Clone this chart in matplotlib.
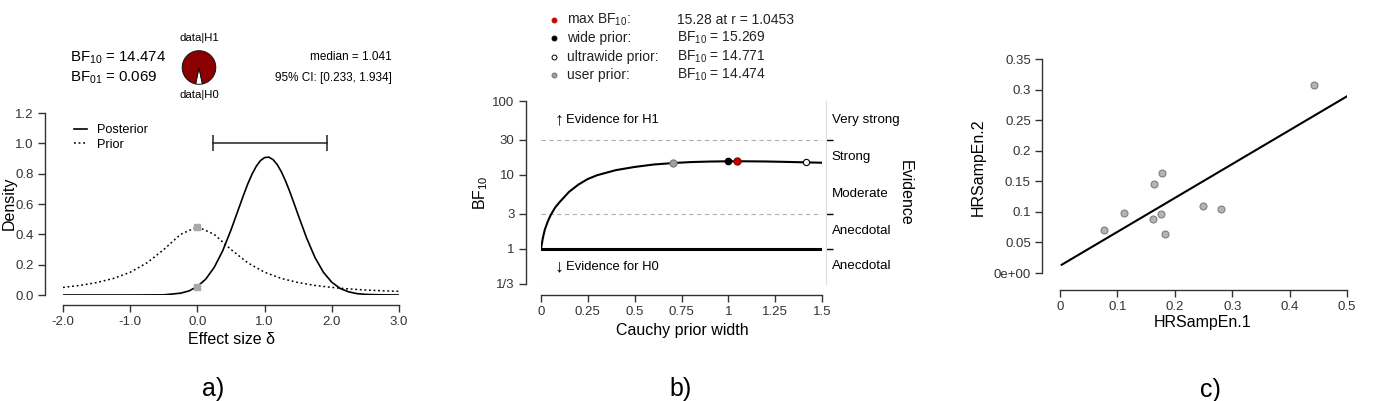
import matplotlib.pyplot as plt
import numpy as np
from matplotlib.lines import Line2D

plt.rcParams['font.family'] = ['Liberation Sans', 'DejaVu Sans']
plt.rcParams['mathtext.fontset'] = 'custom'
plt.rcParams['mathtext.rm'] = 'Liberation Sans'
plt.rcParams['mathtext.it'] = 'Liberation Sans:italic'

# --- a) prior / posterior ---
prior_x = [-2.0, -1.75, -1.5, -1.25, -1.0, -0.75, -0.5, -0.25, 0.0, 0.25, 0.5,
           0.75, 1.0, 1.25, 1.5, 1.75, 2.0, 2.25, 2.5, 2.75, 3.0]
prior_y = [0.050, 0.063, 0.082, 0.109, 0.150, 0.212, 0.300, 0.400, 0.450, 0.400, 0.300,
           0.212, 0.150, 0.109, 0.082, 0.063, 0.050, 0.040, 0.033, 0.028, 0.024]
post_x = [-2.0, -1.0, -0.5, -0.25, -0.125, 0.0, 0.125, 0.25, 0.375, 0.5, 0.625, 0.6875,
          0.75, 0.8125, 0.875, 0.9375, 1.0, 1.0625, 1.125, 1.1875, 1.25, 1.3125, 1.375,
          1.4375, 1.5, 1.625, 1.75, 1.875, 2.0, 2.125, 2.25, 2.375, 2.5, 2.75, 3.0]
post_y = [0.0, 0.0, 0.001, 0.012, 0.027, 0.056, 0.105, 0.182, 0.290, 0.429, 0.583, 0.660,
          0.733, 0.796, 0.848, 0.886, 0.906, 0.909, 0.893, 0.860, 0.812, 0.751, 0.681,
          0.605, 0.527, 0.376, 0.247, 0.150, 0.084, 0.043, 0.021, 0.009, 0.004, 0.001, 0.0]
bf10 = 14.474
bf01 = 0.069
median = 1.041
ci_lo, ci_hi = 0.233, 1.934

# --- b) robustness ---
r_vals = [0.0, 0.01, 0.02, 0.035, 0.05, 0.075, 0.1, 0.15, 0.2, 0.25, 0.3, 0.4, 0.5,
          0.6, 0.707, 0.8, 0.9, 1.0, 1.0453, 1.1, 1.2, 1.3, 1.414, 1.5]
bf_vals = [1.0, 1.4, 1.8, 2.3, 2.8, 3.6, 4.3, 5.9, 7.4, 8.8, 9.9, 11.6, 12.8,
           13.8, 14.474, 14.9, 15.15, 15.269, 15.28, 15.26, 15.18, 15.0, 14.771, 14.6]
max_r, max_bf = 1.0453, 15.28
wide_r, wide_bf = 1.0, 15.269
ultra_r, ultra_bf = 1.414, 14.771
user_r, user_bf = 0.707, 14.474
evid_labels = ['Very strong', 'Strong', 'Moderate', 'Anecdotal', 'Anecdotal']
evid_pos = [55, 17.3, 5.5, 1.73, 0.58]

# --- c) scatter ---
hr1 = [0.443, 0.178, 0.164, 0.112, 0.176, 0.162, 0.077, 0.183, 0.249, 0.280]
hr2 = [0.308, 0.163, 0.146, 0.098, 0.0965, 0.089, 0.071, 0.064, 0.109, 0.104]
fit_x = [0.003, 0.5]
fit_y = [0.0135, 0.289]

W, H = 1374, 401
def fx(px):
    return px / W
def fy(py):
    return 1 - py / H

fig = plt.figure(figsize=(W / 100, H / 100), dpi=100)
axcol = '#333333'
tick_fs = 9.5
lab_fs = 11.5
panel_fs = 18


def r_style(ax, left_out, bottom_out, xb, yb):
    for s in ['top', 'right']:
        ax.spines[s].set_visible(False)
    ax.spines['left'].set_position(('outward', left_out))
    ax.spines['bottom'].set_position(('outward', bottom_out))
    ax.spines['left'].set_bounds(*yb)
    ax.spines['bottom'].set_bounds(*xb)
    for s in ['left', 'bottom']:
        ax.spines[s].set_color(axcol)
        ax.spines[s].set_linewidth(1.0)
    ax.tick_params(labelsize=tick_fs, colors=axcol, length=5, width=1.0, pad=3)
    ax.set_facecolor('none')


# ================= a) =================
ax_a = fig.add_axes([fx(63), fy(295), (399 - 63) / W, (295 - 113) / H])
ax_a.plot(post_x, post_y, color='k', lw=1.2, label='Posterior')
ax_a.plot(prior_x, prior_y, color='k', lw=1.1, ls=(0, (1.2, 1.8)), label='Prior')
ax_a.plot([ci_lo, ci_hi], [1.0, 1.0], color='#222222', lw=1.1, marker='|', ms=11, mew=1.1)
ax_a.plot([0, 0], [prior_y[8], post_y[5]], 's', color='#a8a8a8', ms=5, zorder=5)
ax_a.set_xlim(-2, 3)
ax_a.set_ylim(0, 1.2)
ax_a.set_xticks([-2, -1, 0, 1, 2, 3])
ax_a.set_xticklabels(['-2.0', '-1.0', '0.0', '1.0', '2.0', '3.0'])
ax_a.set_yticks([0, 0.2, 0.4, 0.6, 0.8, 1.0, 1.2])
ax_a.set_yticklabels(['0.0', '0.2', '0.4', '0.6', '0.8', '1.0', '1.2'])
r_style(ax_a, 13, 7, (-2, 3), (0, 1.2))
ax_a.legend(loc='upper left', bbox_to_anchor=(fx(74), fy(124)), bbox_transform=fig.transFigure,
            frameon=False, fontsize=9.2, handlelength=1.0, handletextpad=0.8,
            borderpad=0, borderaxespad=0, labelspacing=0.2)
fig.text(fx(9), fy(203), 'Density', rotation=90, ha='center', va='center', fontsize=lab_fs)
fig.text(fx(231), fy(340), 'Effect size δ', ha='center', va='center', fontsize=lab_fs)

fig.text(fx(70), fy(58), r'BF$_{10}$ = ' + f'{bf10:.3f}', ha='left', va='center', fontsize=10.8)
fig.text(fx(70), fy(78), r'BF$_{01}$ = ' + f'{bf01:.3f}', ha='left', va='center', fontsize=10.8)
fig.text(fx(392), fy(57), f'median = {median:.3f}', ha='right', va='center', fontsize=8.5)
fig.text(fx(392), fy(78), f'95% CI: [{ci_lo:.3f}, {ci_hi:.3f}]', ha='right', va='center',
         fontsize=8.5)

ax_pie = fig.add_axes([fx(178), fy(88.5), 42 / W, 42 / H])
white_frac = 1 / (bf10 + 1)
ax_pie.pie([1, bf10], colors=['white', '#8b0000'],
           startangle=270 - white_frac * 180,
           wedgeprops=dict(edgecolor='#111111', linewidth=0.7))
ax_pie.set_aspect('equal')
fig.text(fx(199), fy(38), 'data|H1', ha='center', va='center', fontsize=8.2)
fig.text(fx(199), fy(95), 'data|H0', ha='center', va='center', fontsize=8.2)
fig.text(fx(213), fy(389), 'a)', ha='center', va='center', fontsize=panel_fs)

# ================= b) =================
ax_b = fig.add_axes([fx(541), fy(284), 281 / W, 183 / H])
ax_b.set_yscale('log')
ax_b.set_xlim(0, 1.5)
ax_b.set_ylim(1 / 3, 100)
for lvl in [30, 3, 1 / 3]:
    ax_b.axhline(lvl, color='#b0b0b0', lw=0.8, ls=(0, (4, 3)))
ax_b.axhline(1, color='k', lw=2.2)
ax_b.plot(r_vals, bf_vals, color='k', lw=1.5)
ax_b.plot([user_r], [user_bf], 'o', color='#a0a0a0', mec='#808080', ms=5, zorder=5)
ax_b.plot([wide_r], [wide_bf], 'o', color='k', ms=4.5, zorder=5)
ax_b.plot([max_r], [max_bf], 'o', color='#d00000', mec='#900000', ms=5, zorder=6)
ax_b.plot([ultra_r], [ultra_bf], 'o', color='white', mec='k', mew=0.8, ms=4.5, zorder=5)
ax_b.set_xticks([0, 0.25, 0.5, 0.75, 1, 1.25, 1.5])
ax_b.set_xticklabels(['0', '0.25', '0.5', '0.75', '1', '1.25', '1.5'])
yt = [1 / 3, 1, 3, 10, 30, 100]
ax_b.set_yticks(yt)
ax_b.set_yticklabels(['1/3', '1', '3', '10', '30', '100'])
ax_b.yaxis.set_minor_locator(plt.NullLocator())
r_style(ax_b, 11, 8, (0, 1.5), (1 / 3, 100))
for t, v in zip(ax_b.yaxis.get_major_ticks(), yt):
    if v not in (1, 3, 30):
        t.tick1line.set_visible(False)

ax_r = ax_b.twinx()
ax_r.set_yscale('log')
ax_r.set_ylim(1 / 3, 100)
for s in ['top', 'left', 'bottom']:
    ax_r.spines[s].set_visible(False)
ax_r.spines['right'].set_position(('outward', 3))
ax_r.spines['right'].set_color('#dddddd')
ax_r.set_yticks([1, 3, 30])
ax_r.yaxis.set_minor_locator(plt.NullLocator())
ax_r.tick_params(axis='y', length=5, width=1.0, color='k', labelright=False)
for lab, pos in zip(evid_labels, evid_pos):
    ax_r.text(1.035, pos, lab, transform=ax_r.get_yaxis_transform(), ha='left',
              va='center', fontsize=9.6)

ax_b.text(0.05, 0.895, '↑', transform=ax_b.transAxes, ha='left', va='center', fontsize=13)
ax_b.text(0.088, 0.895, 'Evidence for H1', transform=ax_b.transAxes, ha='left',
          va='center', fontsize=9.4)
ax_b.text(0.05, 0.095, '↓', transform=ax_b.transAxes, ha='left', va='center', fontsize=13)
ax_b.text(0.088, 0.095, 'Evidence for H0', transform=ax_b.transAxes, ha='left',
          va='center', fontsize=9.4)

fig.text(fx(481), fy(193), r'BF$_{10}$', rotation=90, ha='center', va='center', fontsize=lab_fs)
fig.text(fx(905), fy(193), 'Evidence', rotation=270, ha='center', va='center', fontsize=lab_fs)
fig.text(fx(682), fy(330), 'Cauchy prior width', ha='center', va='center', fontsize=lab_fs)
fig.text(fx(681), fy(389), 'b)', ha='center', va='center', fontsize=panel_fs)

# legend rows above panel b
rows = [
    ('max BF$_{10}$:', f'{max_bf:.2f} at r = {max_r:.4f}', dict(color='#d00000', mec='#d00000')),
    ('wide prior:', r'BF$_{10}$ = ' + f'{wide_bf:.3f}', dict(color='k', mec='k')),
    ('ultrawide prior:', r'BF$_{10}$ = ' + f'{ultra_bf:.3f}', dict(color='white', mec='k')),
    ('user prior:', r'BF$_{10}$ = ' + f'{user_bf:.3f}', dict(color='#a0a0a0', mec='#707070')),
]
row_y = [20, 38, 57, 75]
for (lab, val, mk), yy in zip(rows, row_y):
    fig.add_artist(Line2D([fx(554)], [fy(yy)], marker='o', ms=3.5, mew=0.7,
                          linestyle='none', transform=fig.transFigure, **mk))
    fig.text(fx(567), fy(yy), lab, ha='left', va='center', fontsize=10, color='#222222')
    fig.text(fx(677), fy(yy), val, ha='left', va='center', fontsize=10, color='#222222')

# ================= c) =================
ax_c = fig.add_axes([fx(1060), fy(273), 287 / W, 214 / H])
ax_c.plot(fit_x, fit_y, color='k', lw=1.5)
ax_c.plot(hr1, hr2, 'o', color='#b4b4b4', mec='#808080', mew=0.8, ms=5)
ax_c.set_xlim(0, 0.5)
ax_c.set_ylim(0, 0.35)
ax_c.set_xticks([0, 0.1, 0.2, 0.3, 0.4, 0.5])
ax_c.set_xticklabels(['0', '0.1', '0.2', '0.3', '0.4', '0.5'])
ax_c.set_yticks([0, 0.05, 0.1, 0.15, 0.2, 0.25, 0.3, 0.35])
ax_c.set_yticklabels(['0e+00', '0.05', '0.1', '0.15', '0.2', '0.25', '0.3', '0.35'])
r_style(ax_c, 13, 12, (0, 0.5), (0, 0.35))
fig.text(fx(978), fy(167), 'HRSampEn.2', rotation=90, ha='center', va='center', fontsize=lab_fs)
fig.text(fx(1203), fy(323), 'HRSampEn.1', ha='center', va='center', fontsize=lab_fs)
fig.text(fx(1210), fy(390), 'c)', ha='center', va='center', fontsize=panel_fs)

fig.savefig('out.png', dpi=100, facecolor='white')
